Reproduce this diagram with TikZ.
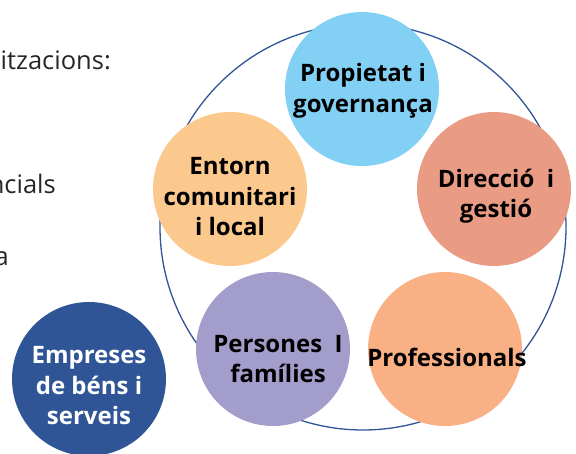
\documentclass[tikz,border=0pt]{standalone}
\usepackage{fontspec}
\setmainfont{Open Sans}
\definecolor{ringblue}{HTML}{2F5597}
\definecolor{cprop}{HTML}{83D0F5}
\definecolor{cdir}{HTML}{EA9B84}
\definecolor{cent}{HTML}{FBC88E}
\definecolor{cpers}{HTML}{A39DCB}
\definecolor{cprof}{HTML}{F8B084}
\definecolor{cemp}{HTML}{2F5597}
\definecolor{bodytext}{HTML}{262626}
\tikzset{
  ball/.style={circle, minimum size=154pt, inner sep=0pt, draw=none},
  balltext/.style={align=center, inner sep=0pt,
    font=\fontsize{24}{30.5}\selectfont\bfseries, text=black},
  sidetext/.style={anchor=base east, inner sep=0pt, text=bodytext,
    font=\fontsize{25.5}{28}\selectfont},
}
\begin{document}
\begin{tikzpicture}[x=1pt,y=-1pt]
\useasboundingbox (0,0) rectangle (576,453);
\node[circle, draw=ringblue, line width=1.3pt, minimum size=406pt, inner sep=0pt] (ring) at (363,227) {};
\node[ball, fill=cprop] (prop) at (362,89) {};
\node[ball, fill=cdir] (dir) at (494,189) {};
\node[ball, fill=cent] (ent) at (230,189) {};
\node[ball, fill=cpers] (pers) at (273,349) {};
\node[ball, fill=cprof] (prof) at (445,349) {};
\node[ball, fill=cemp] (emp) at (89,379) {};
\node[balltext] (propt) at (363,91) {Propietat i\\governança};
\node[balltext] (dirt) at (496,196) {Direcció\ \ i\\ gestió};
\node[balltext] (entt) at (230,197) {Entorn\\comunitari\\i local};
\node[balltext] (perst) at (278,359) {Persones\ \ I\\ famílies};
\node[balltext] (proft) at (447,357) {Professionals};
\node[balltext, text=white] (empt) at (89,386) {Empreses\\de béns i\\serveis};
\node[sidetext] (t1) at (111,69) {itzacions:};
\node[sidetext] (t2) at (56,193) {ncials};
\node[sidetext] (t3) at (9,265) {a};
\end{tikzpicture}
\end{document}
